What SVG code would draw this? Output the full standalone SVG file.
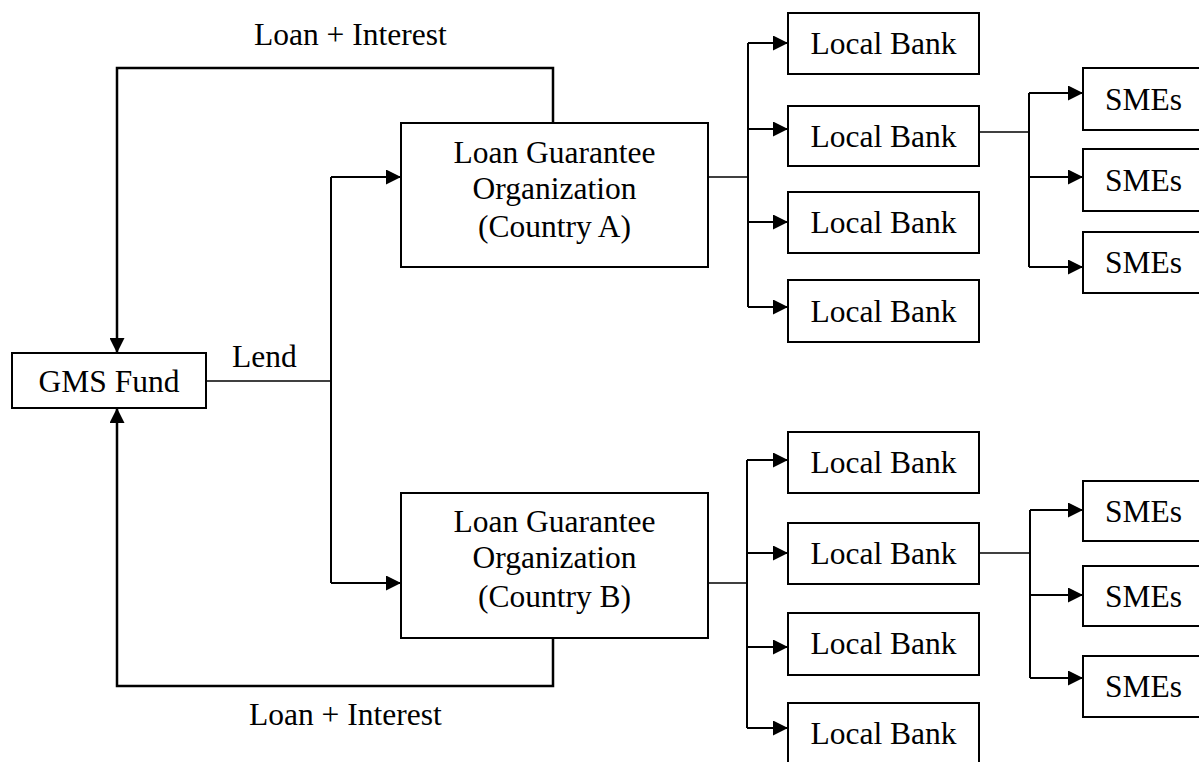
<svg xmlns="http://www.w3.org/2000/svg" width="1199" height="762" viewBox="0 0 1199 762">
  <style>
    .box { fill: #ffffff; stroke: #000000; stroke-width: 2; }
    .label { font-family: "Liberation Serif", "Times New Roman", serif; font-size: 31.5px; fill: #000000; }
    .mid { text-anchor: middle; }
    .wire { fill: none; stroke: #000000; stroke-width: 2; }
    .thin { fill: none; stroke: #000000; stroke-width: 1.5; }
    .return { fill: none; stroke: #000000; stroke-width: 2.5; }
    .arrow { marker-end: url(#head); }
  </style>
  <defs>
    <marker id="head" markerUnits="userSpaceOnUse" markerWidth="16" markerHeight="15" refX="15" refY="7.5" orient="auto">
      <path d="M0,0 L15,7.5 L0,15 Z" fill="#000000"/>
    </marker>
  </defs>

  <!-- connectors -->
  <g id="connectors">
    <!-- fund to guarantee organizations -->
    <path class="thin" d="M206,381 H331"/>
    <path class="wire" d="M331,177 V583"/>
    <path class="wire arrow" d="M331,177 H401"/>
    <path class="wire arrow" d="M331,583 H401"/>

    <!-- repayments back to the fund -->
    <path class="return arrow" d="M553,123 V68 H117 V353"/>
    <path class="return arrow" d="M553,638 V686 H117 V408"/>

    <!-- country A to local banks -->
    <path class="thin" d="M708,177 H748"/>
    <path class="wire" d="M748,43 V307"/>
    <path class="wire arrow" d="M748,43 H788"/>
    <path class="wire arrow" d="M748,129 H788"/>
    <path class="wire arrow" d="M748,222 H788"/>
    <path class="wire arrow" d="M748,307 H788"/>

    <!-- country B to local banks -->
    <path class="thin" d="M708,583 H747"/>
    <path class="wire" d="M747,460 V728"/>
    <path class="wire arrow" d="M747,460 H788"/>
    <path class="wire arrow" d="M747,553 H788"/>
    <path class="wire arrow" d="M747,647 H788"/>
    <path class="wire arrow" d="M747,728 H788"/>

    <!-- local banks to SMEs (upper) -->
    <path class="thin" d="M979,132 H1029"/>
    <path class="wire" d="M1029,93 V267"/>
    <path class="wire arrow" d="M1029,93 H1083"/>
    <path class="wire arrow" d="M1029,177 H1083"/>
    <path class="wire arrow" d="M1029,267 H1083"/>

    <!-- local banks to SMEs (lower) -->
    <path class="thin" d="M979,553 H1030"/>
    <path class="wire" d="M1030,510 V678"/>
    <path class="wire arrow" d="M1030,510 H1083"/>
    <path class="wire arrow" d="M1030,595 H1083"/>
    <path class="wire arrow" d="M1030,678 H1083"/>
  </g>

  <!-- edge labels -->
  <g id="edge-labels">
    <text class="label" x="254" y="45">Loan + Interest</text>
    <text class="label" x="249" y="725">Loan + Interest</text>
    <text class="label" x="232" y="367">Lend</text>
  </g>

  <g id="gms-fund">
    <rect class="box" x="12" y="353" width="194" height="55"/>
    <text class="label mid" x="109" y="392">GMS Fund</text>
  </g>

  <g id="lgo-a">
    <rect class="box" x="401" y="123" width="307" height="144"/>
    <text class="label mid" x="554.5" y="163">Loan Guarantee</text>
    <text class="label mid" x="554.5" y="199">Organization</text>
    <text class="label mid" x="554.5" y="237">(Country A)</text>
  </g>

  <g id="lgo-b">
    <rect class="box" x="401" y="493" width="307" height="145"/>
    <text class="label mid" x="554.5" y="532">Loan Guarantee</text>
    <text class="label mid" x="554.5" y="568">Organization</text>
    <text class="label mid" x="554.5" y="607">(Country B)</text>
  </g>

  <g id="bank-a1">
    <rect class="box" x="788" y="13" width="191" height="61"/>
    <text class="label mid" x="883.5" y="54">Local Bank</text>
  </g>
  <g id="bank-a2">
    <rect class="box" x="788" y="106" width="191" height="60"/>
    <text class="label mid" x="883.5" y="146.5">Local Bank</text>
  </g>
  <g id="bank-a3">
    <rect class="box" x="788" y="192" width="191" height="61"/>
    <text class="label mid" x="883.5" y="233">Local Bank</text>
  </g>
  <g id="bank-a4">
    <rect class="box" x="788" y="280" width="191" height="62"/>
    <text class="label mid" x="883.5" y="321.5">Local Bank</text>
  </g>

  <g id="bank-b1">
    <rect class="box" x="788" y="432" width="191" height="61"/>
    <text class="label mid" x="883.5" y="473">Local Bank</text>
  </g>
  <g id="bank-b2">
    <rect class="box" x="788" y="523" width="191" height="61"/>
    <text class="label mid" x="883.5" y="564">Local Bank</text>
  </g>
  <g id="bank-b3">
    <rect class="box" x="788" y="613" width="191" height="62"/>
    <text class="label mid" x="883.5" y="654">Local Bank</text>
  </g>
  <g id="bank-b4">
    <rect class="box" x="788" y="703" width="191" height="70"/>
    <text class="label mid" x="883.5" y="744">Local Bank</text>
  </g>

  <g id="sme-a1">
    <rect class="box" x="1083" y="68" width="121" height="62"/>
    <text class="label mid" x="1143.5" y="109.5">SMEs</text>
  </g>
  <g id="sme-a2">
    <rect class="box" x="1083" y="149" width="121" height="62"/>
    <text class="label mid" x="1143.5" y="190.5">SMEs</text>
  </g>
  <g id="sme-a3">
    <rect class="box" x="1083" y="232" width="121" height="61"/>
    <text class="label mid" x="1143.5" y="273">SMEs</text>
  </g>
  <g id="sme-b1">
    <rect class="box" x="1083" y="481" width="121" height="60"/>
    <text class="label mid" x="1143.5" y="521.5">SMEs</text>
  </g>
  <g id="sme-b2">
    <rect class="box" x="1083" y="566" width="121" height="60"/>
    <text class="label mid" x="1143.5" y="606.5">SMEs</text>
  </g>
  <g id="sme-b3">
    <rect class="box" x="1083" y="656" width="121" height="61"/>
    <text class="label mid" x="1143.5" y="697">SMEs</text>
  </g>
</svg>
